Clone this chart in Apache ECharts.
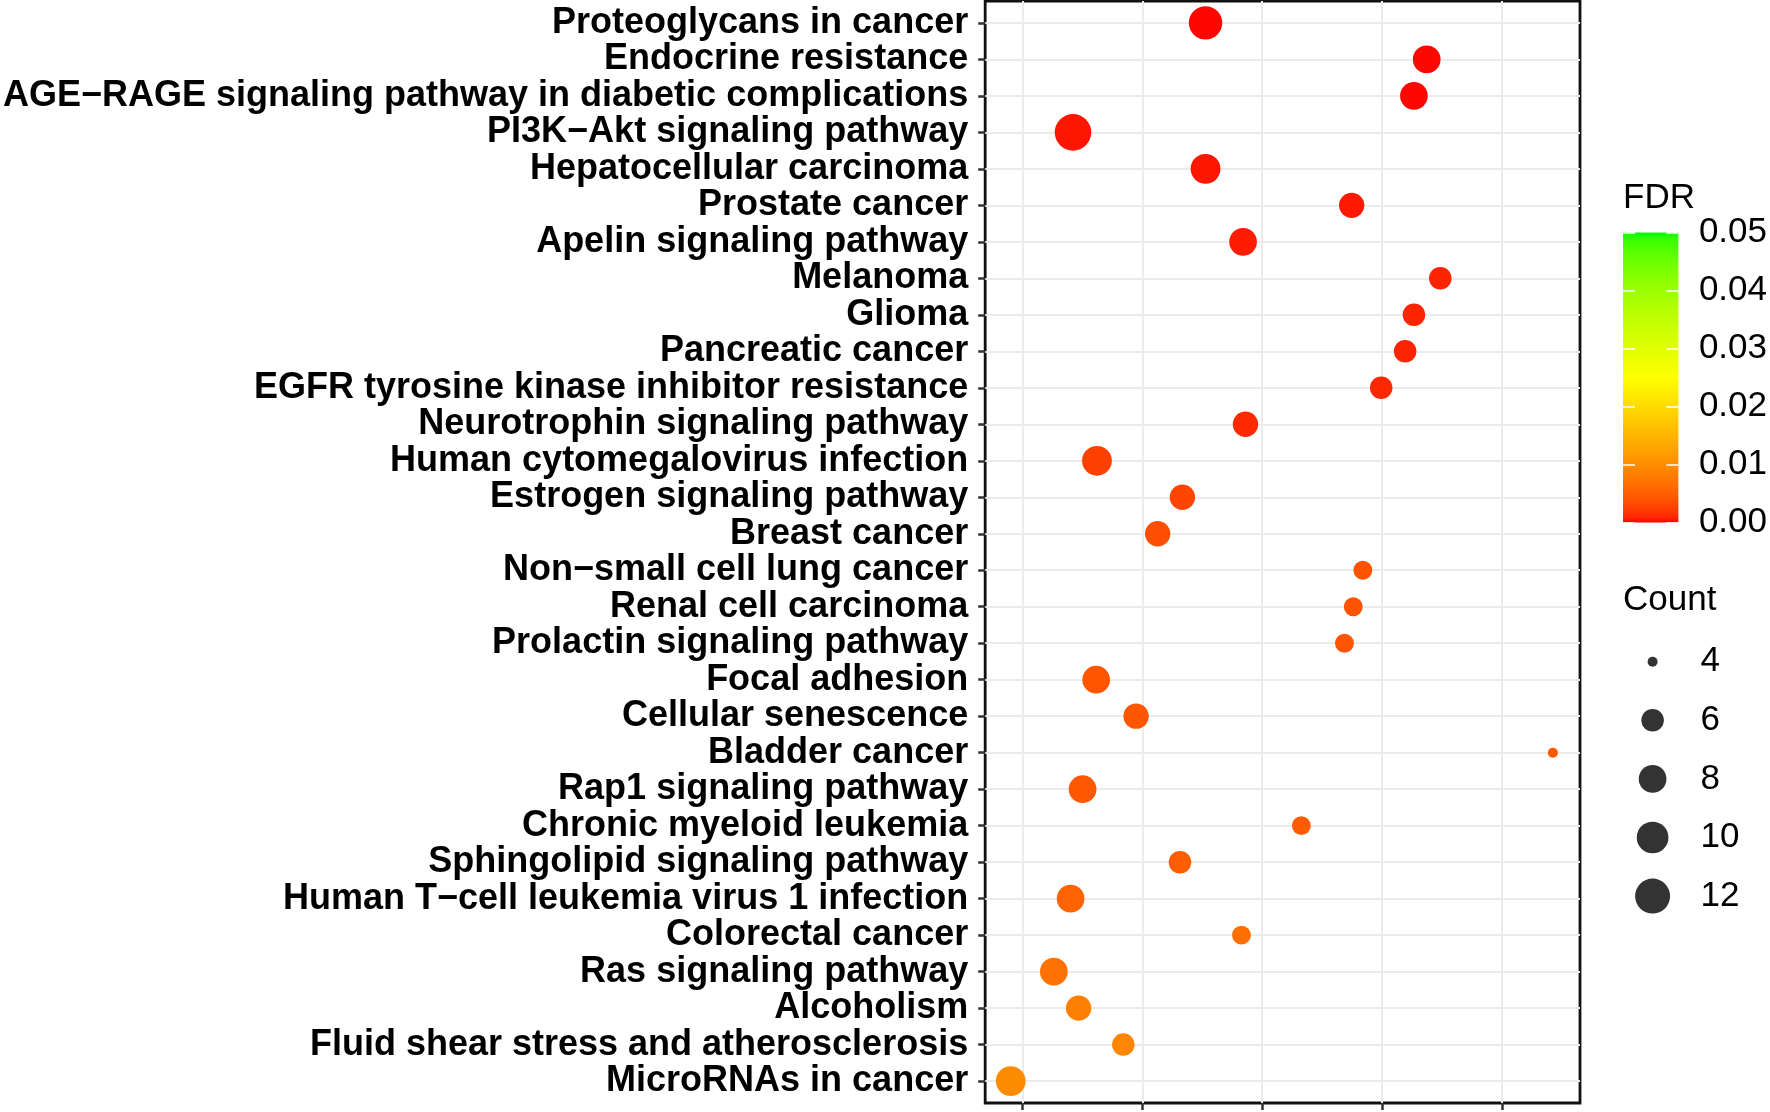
<!DOCTYPE html>
<html><head><meta charset="utf-8">
<script src="https://cdn.jsdelivr.net/npm/echarts@6/dist/echarts.min.js"></script>
<style>html,body{margin:0;padding:0;background:#fff}#c{width:1770px;height:1112px}</style>
</head><body><div id="c"></div>
<script>
// ---------- data ----------
const categories = [
  'Proteoglycans in cancer', 'Endocrine resistance',
  'AGE\u2212RAGE signaling pathway in diabetic complications', 'PI3K\u2212Akt signaling pathway',
  'Hepatocellular carcinoma', 'Prostate cancer', 'Apelin signaling pathway', 'Melanoma', 'Glioma',
  'Pancreatic cancer', 'EGFR tyrosine kinase inhibitor resistance', 'Neurotrophin signaling pathway',
  'Human cytomegalovirus infection', 'Estrogen signaling pathway', 'Breast cancer',
  'Non\u2212small cell lung cancer', 'Renal cell carcinoma', 'Prolactin signaling pathway',
  'Focal adhesion', 'Cellular senescence', 'Bladder cancer', 'Rap1 signaling pathway',
  'Chronic myeloid leukemia', 'Sphingolipid signaling pathway',
  'Human T\u2212cell leukemia virus 1 infection', 'Colorectal cancer', 'Ras signaling pathway',
  'Alcoholism', 'Fluid shear stress and atherosclerosis', 'MicroRNAs in cancer'
];
const richFactor = [0.0529, 0.0806, 0.0790, 0.0363, 0.0529, 0.0712, 0.0576, 0.0823, 0.0790, 0.0779,
  0.0749, 0.0579, 0.0393, 0.0500, 0.0469, 0.0726, 0.0714, 0.0703, 0.0392, 0.0442,
  0.0964, 0.0375, 0.0649, 0.0497, 0.0360, 0.0574, 0.0339, 0.0370, 0.0426, 0.0285];
const counts = [11, 8, 8, 13, 9, 7, 8, 6, 6, 6, 6, 7, 9, 7, 7, 5, 5, 5, 8, 7, 4, 8, 5, 6, 8, 5, 8, 7, 6, 9];
const fdr = [0.0001, 0.0001, 0.0001, 0.0004, 0.0004, 0.0005, 0.0006, 0.0009, 0.0009, 0.0009,
  0.0010, 0.0011, 0.0025, 0.0028, 0.0035, 0.0039, 0.0039, 0.0040, 0.0041, 0.0042,
  0.0043, 0.0044, 0.0046, 0.0049, 0.0055, 0.0066, 0.0068, 0.0085, 0.0092, 0.0099];
const xTicks = [0.030, 0.045, 0.060, 0.075, 0.090];
const xMin = 0.0253, xMax = 0.0998;
const fdrTicks = [0, 0.01, 0.02, 0.03, 0.04, 0.05];
const countBreaks = [4, 6, 8, 10, 12];
const paletteColours = ['#FF0000', '#FFFF00', '#00FF00'];

// ---------- colour (Lab interpolation like ggplot) ----------
const Xn = 0.95047, Yn = 1, Zn = 1.08883;
function lin(c){return c <= 0.04045 ? c/12.92 : Math.pow((c+0.055)/1.055, 2.4);}
function gam(c){c = Math.max(0, Math.min(1, c)); return c <= 0.0031308 ? 12.92*c : 1.055*Math.pow(c, 1/2.4) - 0.055;}
function ff(t){return t > 0.008856 ? Math.cbrt(t) : 7.787*t + 16/116;}
function finv(t){const t3 = t*t*t; return t3 > 0.008856 ? t3 : (t - 16/116)/7.787;}
function toLab(hex){
  const h = hex.replace('#','');
  const [r,g,b] = [0,2,4].map(i => lin(parseInt(h.substr(i,2),16)/255));
  const X = 0.4124*r+0.3576*g+0.1805*b, Y = 0.2126*r+0.7152*g+0.0722*b, Z = 0.0193*r+0.1192*g+0.9505*b;
  const fx = ff(X/Xn), fy = ff(Y/Yn), fz = ff(Z/Zn);
  return [116*fy-16, 500*(fx-fy), 200*(fy-fz)];
}
function fromLab(l){
  const fy = (l[0]+16)/116, fx = fy + l[1]/500, fz = fy - l[2]/200;
  const X = Xn*finv(fx), Y = Yn*finv(fy), Z = Zn*finv(fz);
  const r = 3.2406*X-1.5372*Y-0.4986*Z, g = -0.9689*X+1.8758*Y+0.0415*Z, b = 0.0557*X-0.2040*Y+1.0570*Z;
  return '#' + [r,g,b].map(c => Math.round(gam(c)*255).toString(16).padStart(2,'0')).join('');
}
const paletteLab = paletteColours.map(toLab);
const fdrMin = fdrTicks[0], fdrMax = fdrTicks[fdrTicks.length-1];
function fdrColor(v){
  let t = (v - fdrMin)/(fdrMax - fdrMin); t = Math.max(0, Math.min(1, t));
  const n = paletteLab.length - 1, seg = t*n, i = Math.min(Math.floor(seg), n-1), u = seg - i;
  const a = paletteLab[i], b = paletteLab[i+1];
  return fromLab([0,1,2].map(k => a[k] + (b[k]-a[k])*u));
}
function dotSize(c){ return 10 + 8.85*Math.sqrt(Math.max(0, c - 4)); }

const FONT = "'Liberation Sans', Arial, sans-serif";
const rowIdx = categories.map((c,i) => i);
const gradStops = [];
for (let k = 0; k <= 60; k++) gradStops.push({offset: k/60, color: fdrColor(fdrMax - (fdrMax-fdrMin)*k/60)});

const chart = echarts.init(document.getElementById('c'), null, {renderer: 'canvas'});
chart.setOption({
  animation: false,
  backgroundColor: '#fff',
  textStyle: {fontFamily: FONT},
  title: [
    {text: 'FDR', left: 1623, top: 178, padding: 0, textStyle: {fontSize: 35, fontWeight: 'normal', color: '#000', fontFamily: FONT, lineHeight: 40}},
    {text: 'Count', left: 1623, top: 580, padding: 0, textStyle: {fontSize: 35, fontWeight: 'normal', color: '#000', fontFamily: FONT, lineHeight: 40}}
  ],
  grid: [
    {left: 978, right: 190, top: 1, bottom: 9, show: true, borderColor: '#111', borderWidth: 2.8, backgroundColor: 'transparent'},
    {left: 1623, top: 232.6, width: 60, height: 290},
    {left: 1632.6, top: 632.4, width: 40, height: 293}
  ],
  xAxis: [
    {type: 'value', gridIndex: 0, min: xMin, max: xMax, position: 'bottom',
     axisLine: {show: false, onZero: false},
     axisTick: {show: true, customValues: xTicks, length: 7, lineStyle: {color: '#333', width: 2.5}},
     axisLabel: {show: false},
     splitLine: {show: true, lineStyle: {color: '#EBEBEB', width: 2}}},
    {type: 'value', gridIndex: 1, min: 0, max: 1, show: false},
    {type: 'category', gridIndex: 2, data: [''], show: false}
  ],
  yAxis: [
    {type: 'value', gridIndex: 0, min: -0.6, max: categories.length - 1 + 0.6, inverse: true, position: 'left',
     axisLine: {show: false, onZero: false},
     axisTick: {show: true, customValues: rowIdx, length: 7, lineStyle: {color: '#333', width: 2.5}},
     axisLabel: {customValues: rowIdx, formatter: v => categories[v], fontSize: 36, fontWeight: 'bold', color: '#000', margin: 17, fontFamily: FONT, padding: [5, 0, 0, 0]},
     splitLine: {show: true, lineStyle: {color: '#EBEBEB', width: 2}}},
    {type: 'value', gridIndex: 1, position: 'right', min: fdrMin, max: fdrMax, interval: 0.01, z: 5,
     axisLine: {show: false, onZero: false},
     axisTick: {show: true, inside: true, length: 12, lineStyle: {color: '#fff', width: 1.5}},
     axisLabel: {formatter: v => v.toFixed(2), fontSize: 35, color: '#000', margin: 20.5, fontFamily: FONT, padding: [4, 0, 0, 0]},
     splitLine: {show: false}},
    {type: 'value', gridIndex: 1, position: 'left', min: fdrMin, max: fdrMax, interval: 0.01, z: 5,
     axisLine: {show: false, onZero: false},
     axisTick: {show: true, inside: true, length: 12, lineStyle: {color: '#fff', width: 1.5}},
     axisLabel: {show: false}, splitLine: {show: false}},
    {type: 'category', gridIndex: 2, position: 'right', inverse: true, data: countBreaks.map(String),
     axisLine: {show: false}, axisTick: {show: false},
     axisLabel: {fontSize: 35, color: '#000', margin: 28, fontFamily: FONT, padding: [3, 0, 0, 0]},
     splitLine: {show: false}}
  ],
  series: [
    {type: 'scatter', xAxisIndex: 0, yAxisIndex: 0, z: 3,
     data: categories.map((c,i) => [richFactor[i], i, counts[i], fdr[i]]),
     symbol: 'circle',
     symbolSize: d => dotSize(d[2]),
     itemStyle: {color: p => fdrColor(p.data[3]), opacity: 1}},
    {type: 'custom', xAxisIndex: 1, yAxisIndex: 1, z: 1,
     data: [[0, fdrMin]],
     renderItem: (params, api) => {
       const p0 = api.coord([0, fdrMax]);
       const p1 = api.coord([1, fdrMin]);
       return {type: 'rect', shape: {x: p0[0], y: p0[1], width: p1[0]-p0[0], height: p1[1]-p0[1]},
         style: {fill: {type: 'linear', x: 0, y: 0, x2: 0, y2: 1, colorStops: gradStops}}};
     }},
    {type: 'scatter', xAxisIndex: 2, yAxisIndex: 3,
     data: countBreaks.map((c,i) => [0, i, c]),
     symbol: 'circle',
     symbolSize: d => dotSize(d[2]),
     itemStyle: {color: '#000'}}
  ]
});
</script></body></html>
